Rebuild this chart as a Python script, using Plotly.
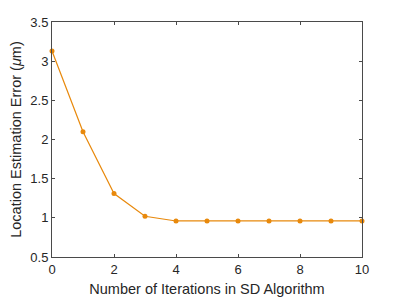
import plotly.graph_objects as go

iterations = [0, 1, 2, 3, 4, 5, 6, 7, 8, 9, 10]
error_um = [3.13, 2.10, 1.31, 1.02, 0.96, 0.96, 0.96, 0.96, 0.96, 0.96, 0.96]
x_ticks = [0, 2, 4, 6, 8, 10]
y_ticks = [0.5, 1, 1.5, 2, 2.5, 3, 3.5]

color = "#E8890C"
axcol = "#4a4a4a"
font = "Liberation Sans, Arial"

fig = go.Figure(go.Scatter(
    x=iterations, y=error_um, mode="lines+markers",
    line=dict(color=color, width=1.2),
    marker=dict(color=color, size=5),
    cliponaxis=False,
))

common = dict(showline=True, linecolor=axcol, linewidth=1, mirror="ticks",
              ticks="inside", ticklen=3, tickcolor=axcol, showgrid=False,
              zeroline=False, automargin=False,
              tickfont=dict(family=font, size=13, color="#262626"))

fig.update_xaxes(range=[0, 10], tickvals=x_ticks,
                 title=dict(text="Number of Iterations in SD Algorithm",
                            font=dict(family=font, size=14.5, color="#262626"),
                            standoff=8),
                 **common)
fig.update_yaxes(range=[0.5, 3.5], tickvals=y_ticks,
                 title=dict(text="Location Estimation Error (<i>μ</i>m)",
                            font=dict(family=font, size=14.5, color="#262626"),
                            standoff=5),
                 **common)

# page body has an 8px margin; compensate so the plot area lands at x 52-362, y 22-257
fig.update_layout(width=399, height=299, margin=dict(l=44, r=45, t=14, b=50, autoexpand=False),
                  paper_bgcolor="white", plot_bgcolor="white", showlegend=False)

fig.write_html("out.html")
